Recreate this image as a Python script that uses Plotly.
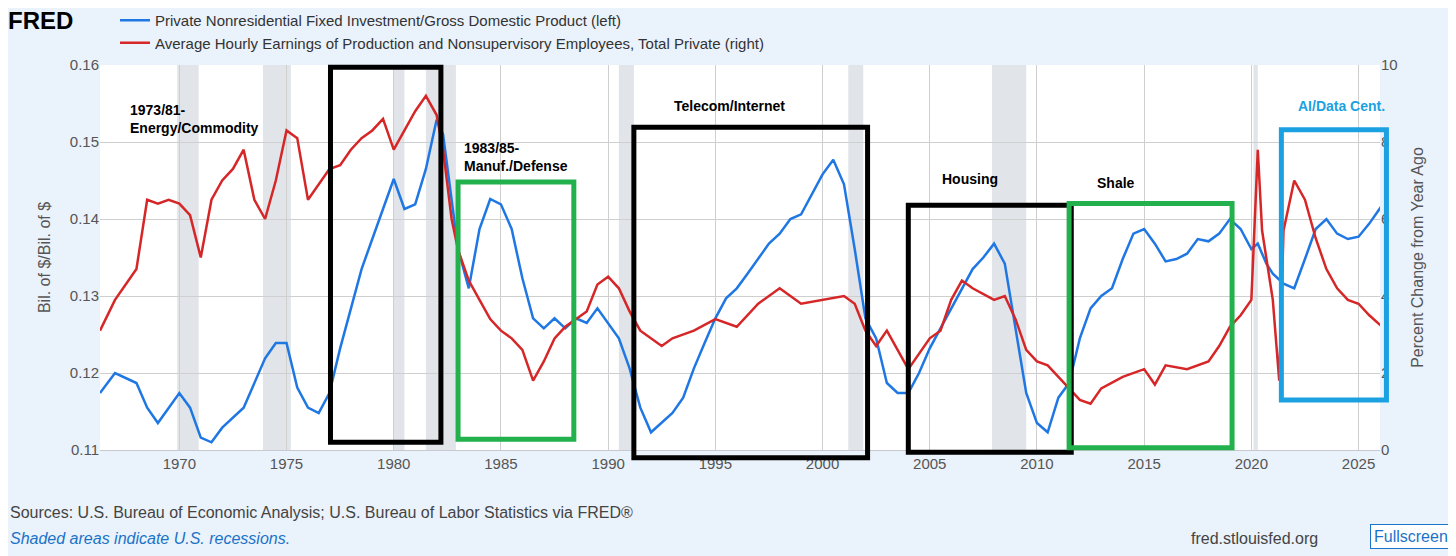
import plotly.graph_objects as go

blue_x = [1966.3,1967,1968,1968.5,1969,1969.5,1970,1970.5,1971,1971.5,1972,1973,1973.5,1974,1974.5,1975,1975.5,1976,1976.5,1977,1977.5,1978,1978.5,1979,1979.5,1980,1980.5,1981,1981.5,1982,1982.3,1982.7,1983,1983.5,1984,1984.5,1985,1985.5,1986,1986.5,1987,1987.5,1988,1988.5,1989,1989.5,1990,1990.5,1991,1991.5,1992,1992.5,1993,1993.5,1994,1994.5,1995,1995.5,1996,1996.5,1997,1997.5,1998,1998.5,1999,1999.5,2000,2000.5,2001,2001.5,2002,2002.5,2003,2003.5,2004,2004.5,2005,2005.5,2006,2006.5,2007,2007.5,2008,2008.5,2009,2009.5,2010,2010.5,2011,2011.5,2012,2012.5,2013,2013.5,2014,2014.5,2015,2015.5,2016,2016.5,2017,2017.5,2018,2018.5,2019,2019.5,2020,2020.3,2020.7,2021,2021.5,2022,2022.5,2023,2023.5,2024,2024.5,2025,2025.5,2026.3]
blue_y = [0.1174,0.1200,0.1187,0.1155,0.1135,0.1155,0.1174,0.1155,0.1116,0.1110,0.1129,0.1155,0.1187,0.1219,0.1239,0.1239,0.1181,0.1155,0.1148,0.1174,0.1232,0.1284,0.1335,0.1374,0.1413,0.1452,0.1413,0.1419,0.1465,0.1529,0.1510,0.1426,0.1361,0.1310,0.1387,0.1426,0.1419,0.1387,0.1323,0.1271,0.1258,0.1271,0.1258,0.1271,0.1265,0.1284,0.1265,0.1245,0.1206,0.1155,0.1123,0.1135,0.1148,0.1168,0.1206,0.1239,0.1271,0.1297,0.1310,0.1329,0.1348,0.1368,0.1381,0.1400,0.1406,0.1432,0.1458,0.1477,0.1445,0.1361,0.1271,0.1245,0.1187,0.1174,0.1174,0.1200,0.1232,0.1258,0.1284,0.1310,0.1335,0.1350,0.1368,0.1342,0.1258,0.1174,0.1135,0.1123,0.1168,0.1187,0.1245,0.1284,0.1300,0.1310,0.1348,0.1381,0.1387,0.1368,0.1345,0.1348,0.1355,0.1374,0.1371,0.1381,0.1400,0.1387,0.1361,0.1368,0.1342,0.1329,0.1316,0.1310,0.1348,0.1387,0.1400,0.1381,0.1374,0.1377,0.1394,0.1426]

red_x = [1966.3,1967,1968,1968.5,1969,1969.5,1970,1970.5,1971,1971.5,1972,1972.5,1973,1973.5,1974,1974.5,1975,1975.5,1976,1976.5,1977,1977.5,1978,1978.5,1979,1979.5,1980,1980.5,1981,1981.5,1982,1982.3,1982.7,1983,1983.5,1984,1984.5,1985,1985.5,1986,1986.5,1987,1987.5,1988,1988.5,1989,1989.5,1990,1990.5,1991,1991.5,1992,1992.5,1993,1994,1995,1996,1997,1998,1999,2000,2001,2001.5,2002,2002.5,2003,2004,2004.5,2005,2005.5,2006,2006.5,2007,2008,2008.5,2009,2009.5,2010,2010.5,2011,2011.5,2012,2012.5,2013,2014,2015,2015.5,2016,2017,2018,2018.5,2019,2019.5,2020,2020.3,2020.5,2021,2021.3,2021.5,2022,2022.5,2023,2023.5,2024,2024.5,2025,2025.5,2026.3]
red_y = [3.1,3.9,4.7,6.5,6.4,6.5,6.4,6.1,5.0,6.5,7.0,7.3,7.8,6.5,6.0,7.0,8.3,8.1,6.5,6.9,7.3,7.4,7.8,8.1,8.3,8.6,7.8,8.3,8.8,9.2,8.7,7.8,6.0,5.2,4.4,3.9,3.4,3.1,2.9,2.6,1.8,2.3,2.9,3.2,3.4,3.6,4.3,4.5,4.2,3.6,3.1,2.9,2.7,2.9,3.1,3.4,3.2,3.8,4.2,3.8,3.9,4.0,3.8,3.1,2.7,3.1,2.1,2.5,2.9,3.1,3.9,4.4,4.2,3.9,4.0,3.4,2.6,2.3,2.2,1.9,1.6,1.3,1.2,1.6,1.9,2.1,1.7,2.2,2.1,2.3,2.7,3.2,3.5,3.9,7.8,5.7,3.9,1.8,5.7,7.0,6.5,5.5,4.7,4.2,3.9,3.8,3.5,3.1]

recessions = [(1969.9,1970.9),(1973.9,1975.2),(1980.0,1980.5),(1981.5,1982.9),(1990.5,1991.2),(2001.2,2001.9),(2007.9,2009.5),(2020.1,2020.3)]
boxes = [(1977.05,1982.2,0.1597,0.1110,"black"),(1983.0,1988.4,0.1448,0.1114,"#22b14c"),
         (1991.2,2002.1,0.1519,0.1090,"black"),(2004.0,2011.6,0.1418,0.1097,"black"),
         (2011.5,2019.1,0.1420,0.1103,"#22b14c"),(2021.4,2026.3,0.1516,0.1165,"#1ba1e2")]
labels = [(1967.6,0.1555,"1973/81-<br>Energy/Commodity","black"),(1983.2,0.1505,"1983/85-<br>Manuf./Defense","black"),
          (1993.0,0.1560,"Telecom/Internet","black"),(2005.5,0.1465,"Housing","black"),
          (2012.7,0.1460,"Shale","black"),(2022.1,0.1560,"AI/Data Cent.","#1ba1e2")]

XR = [1966.3, 2026.0]
YR = [0.11, 0.16]

fig = go.Figure()
fig.add_trace(go.Scatter(x=blue_x, y=blue_y, mode="lines", line=dict(color="#1f77e4", width=2.5),
                         name="Private Nonresidential Fixed Investment/Gross Domestic Product (left)"))
fig.add_trace(go.Scatter(x=red_x, y=red_y, mode="lines", line=dict(color="#d62728", width=2.5), yaxis="y2",
                         name="Average Hourly Earnings of Production and Nonsupervisory Employees, Total Private (right)"))
for a, b in recessions:
    fig.add_vrect(x0=a, x1=b, fillcolor="#e1e4e8", line_width=0, layer="below")
# highlight boxes drawn in paper space so they are not clipped at the axis edges
fx = lambda v: (v - XR[0]) / (XR[1] - XR[0])
fy = lambda v: (v - YR[0]) / (YR[1] - YR[0])
for x0, x1, y1, y0, c in boxes:
    fig.add_shape(type="rect", x0=fx(x0), x1=fx(x1), y0=fy(y0), y1=fy(y1), xref="paper", yref="paper",
                  line=dict(color=c, width=5))
for x, y, t, c in labels:
    fig.add_annotation(x=x, y=y, text="<b>"+t+"</b>", showarrow=False, xanchor="left", yanchor="top", align="left",
                       font=dict(family="Liberation Sans Narrow, Arial", size=14, color=c))

# paper coords (screen px): plot spans x 100..1380, y 65..450
def P(px, py):
    return (px - 100) / 1280, (450 - py) / 385

for px, py, t, sz, col, anc, extra in [
    (8, 512, "Sources: U.S. Bureau of Economic Analysis; U.S. Bureau of Labor Statistics via FRED®", 16, "#444", "left", {}),
    (8, 538, "<i>Shaded areas indicate U.S. recessions.</i>", 16, "#1a73c8", "left", {}),
    (1320, 538, "fred.stlouisfed.org", 16, "#444", "right", {}),
    (1452, 536, "Fullscreen", 16, "#1a73c8", "right", dict(bordercolor="#1a73c8", borderwidth=1, bgcolor="white", borderpad=3)),
    (6, 21, "<b>FRED</b>", 24, "black", "left", {}),
]:
    x, y = P(px, py)
    fig.add_annotation(xref="paper", yref="paper", x=x, y=y, xanchor=anc, yanchor="middle", showarrow=False,
                       text=t, font=dict(size=sz, color=col), **extra)

fig.update_layout(
    width=1448, height=548, paper_bgcolor="#eaf2fb", plot_bgcolor="white",
    margin=dict(l=92, r=76, t=57, b=106, autoexpand=False),
    font=dict(family="Liberation Sans Narrow, Arial", size=15, color="#555"),
    legend=dict(x=P(115, 0)[0], y=P(0, 4)[1], xanchor="left", yanchor="top", bgcolor="rgba(0,0,0,0)",
                font=dict(size=15, color="#333"), tracegroupgap=0, itemwidth=30),
    showlegend=True,
    xaxis=dict(range=XR, tickvals=list(range(1970, 2030, 5)), showgrid=True, gridcolor="#cfcfcf",
               ticks="", showline=True, linecolor="#c8c8d0"),
    yaxis=dict(range=YR, dtick=0.01, tickformat=".2f", showgrid=True, gridcolor="#cfcfcf",
               title=dict(text="Bil. of $/Bil. of $", font=dict(size=16)), zeroline=False),
    yaxis2=dict(range=[0, 10], dtick=2, overlaying="y", side="right", showgrid=False, zeroline=False,
                title=dict(text="Percent Change from Year Ago", font=dict(size=16))),
)
fig.write_html("out.html")
